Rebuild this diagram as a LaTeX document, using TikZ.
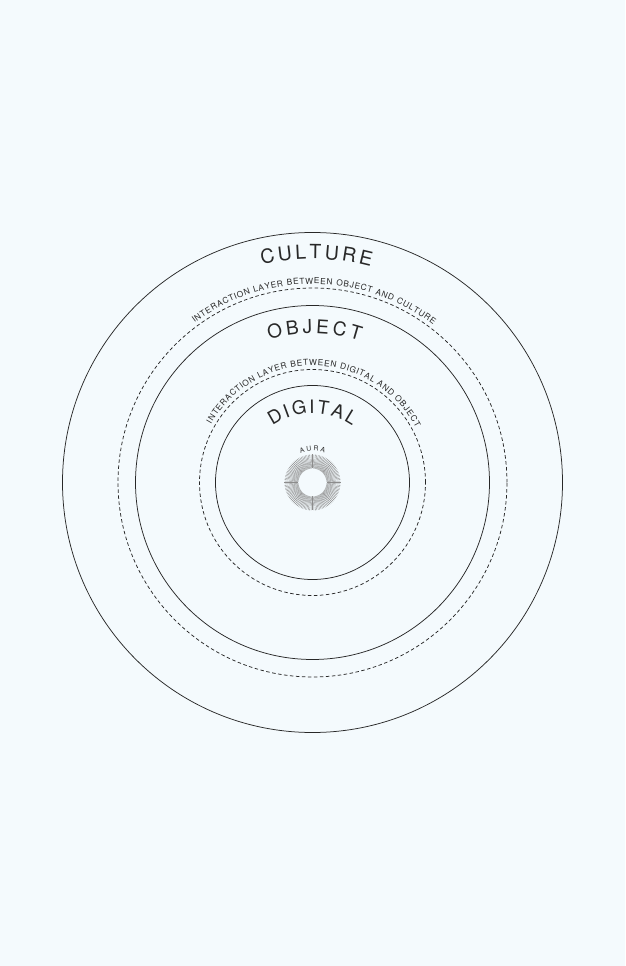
\documentclass[tikz,border=0pt]{standalone}
\usepackage{fontspec}
\newfontfamily\heros{TeX Gyre Heros}
\definecolor{bg}{RGB}{244,250,253}
\definecolor{ink}{RGB}{40,40,40}
\definecolor{raygray}{RGB}{140,140,140}
\newdimen\arcw
\newdimen\arcacc
\newdimen\arctot
\newdimen\arcmid
\newsavebox\arcbox
\newcommand\arcsp{\hspace*{2.4pt}}
\newcommand\fbig{\heros\fontsize{19.5}{20}\selectfont}
\newcommand\fobj{\heros\fontsize{19}{20}\selectfont}
\newcommand\fdig{\heros\fontsize{18.5}{20}\selectfont}
\newcommand\fsmall{\heros\fontsize{8.3}{9}\selectfont}
\newcommand\faura{\heros\fontsize{6.8}{7}\selectfont}
\newcommand\arcmeasure[2]{\pgfinterruptpicture\sbox\arcbox{#1#2}\global\arcw=\wd\arcbox\endpgfinterruptpicture}
% #1 radius (pt number), #2 centre angle, #3 font, #4 tracking, #5 name prefix, #6 list
\newcommand\arctext[6]{%
  \global\arctot=0pt
  \foreach \c in {#6}{\arcmeasure{#3}{\c}\global\advance\arctot by \arcw\global\advance\arctot by #4\relax}%
  \global\advance\arctot by -#4\relax
  \global\arcacc=-0.5\arctot
  \foreach \c [count=\i] in {#6}{%
    \arcmeasure{#3}{\c}%
    \arcmid=\arcacc
    \advance\arcmid by 0.5\arcw
    \edef\midval{\the\arcmid}%
    \pgfmathsetmacro\ang{#2-(\midval)/#1*180/pi}%
    \node[letter, font=#3, rotate=\ang-90] (#5\i) at (\ang:#1pt) {\c};
    \global\advance\arcacc by \arcw
    \global\advance\arcacc by #4\relax
  }%
}
\tikzset{
  ring/.style={draw=ink, line width=0.75pt, circle, inner sep=0pt, outer sep=0pt},
  dashring/.style={ring, dash pattern=on 3.5pt off 2.5pt},
  letter/.style={inner sep=0pt, outer sep=0pt, anchor=base, text=ink},
  ray/.style={draw=raygray, line width=0.4pt},
}
\begin{document}
\begin{tikzpicture}
\useasboundingbox (-312.5pt,-483.5pt) rectangle (312.5pt,482.5pt);
\fill[bg] (-312.5pt,-483.5pt) rectangle (312.5pt,482.5pt);
\node[ring, minimum size=500pt] (culture) at (0,0) {};
\node[dashring, minimum size=389pt] (layerco) at (0,0) {};
\node[ring, minimum size=354pt] (object) at (0,0) {};
\node[dashring, minimum size=226pt] (layerdo) at (0,0) {};
\node[ring, minimum size=194pt] (digital) at (0,0) {};
\coordinate (aura) at (0,0);
\foreach \a in {0,3,...,357} \draw[ray] ([shift={(\a:14pt)}]aura) -- ([shift={(\a:28pt)}]aura);
\arctext{223.5}{89}{\fbig}{3pt}{cu}{C,U,L,T,U,R,E}
\arctext{198.5}{89.5}{\fsmall}{0.7pt}{ioc}{I,N,T,E,R,A,C,T,I,O,N,\arcsp,L,A,Y,E,R,\arcsp,B,E,T,W,E,E,N,\arcsp,O,B,J,E,C,T,\arcsp,A,N,D,\arcsp,C,U,L,T,U,R,E}
\arctext{149}{89.2}{\fobj}{3.4pt}{ob}{O,B,J,E,C,T}
\arctext{117}{89}{\fsmall}{0.7pt}{ido}{I,N,T,E,R,A,C,T,I,O,N,\arcsp,L,A,Y,E,R,\arcsp,B,E,T,W,E,E,N,\arcsp,D,I,G,I,T,A,L,\arcsp,A,N,D,\arcsp,O,B,J,E,C,T}
\arctext{69}{90}{\fdig}{2.2pt}{di}{D,I,G,I,T,A,L}
\arctext{31.5}{90}{\faura}{1.8pt}{au}{A,U,R,A}
\end{tikzpicture}
\end{document}
